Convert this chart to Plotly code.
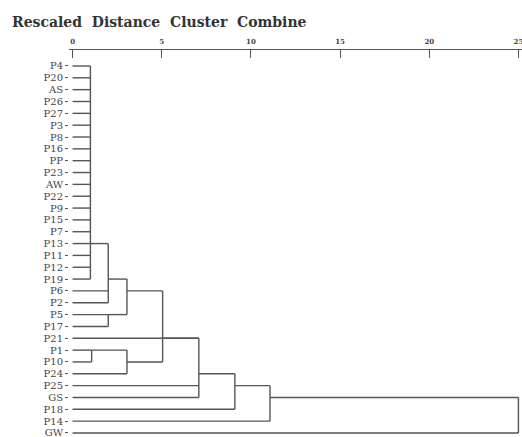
import plotly.graph_objects as go

# Leaf order (top to bottom)
leaves = ["P4", "P20", "AS", "P26", "P27", "P3", "P8", "P16", "PP", "P23", "AW",
          "P22", "P9", "P15", "P7", "P13", "P11", "P12", "P19", "P6", "P2", "P5",
          "P17", "P21", "P1", "P10", "P24", "P25", "GS", "P18", "P14", "GW"]

# Merge steps: cluster name, children, rescaled distance, row label where the cluster line leaves
merge_names = ["A", "R", "B", "PQ", "S", "C", "D", "E", "F", "G", "H"]
merge_children = [
    ["P4", "P20", "AS", "P26", "P27", "P3", "P8", "P16", "PP", "P23", "AW",
     "P22", "P9", "P15", "P7", "P13", "P11", "P12", "P19"],
    ["P5", "P17"],
    ["A", "P6", "P2"],
    ["P1", "P10"],
    ["PQ", "P24"],
    ["B", "R"],
    ["C", "S"],
    ["D", "P21", "P25", "GS"],
    ["E", "P18"],
    ["F", "P14"],
    ["G", "GW"],
]
merge_heights = [1.0, 2.0, 2.0, 1.07, 3.05, 3.05, 5.05, 7.08, 9.1, 11.07, 25.0]
merge_anchor = ["P13", "P5", "P19", "P1", "P10", "P6", "P21", "P24", "P25", "GS", "GW"]

xtick_vals = [0, 5, 10, 15, 20, 25]

row = {name: i for i, name in enumerate(leaves)}
height = {name: 0.0 for name in leaves}

xs, ys = [], []
for name, kids, h, anc in zip(merge_names, merge_children, merge_heights, merge_anchor):
    rows = [row[k] for k in kids]
    for k in kids:
        xs += [height[k], h, None]
        ys += [row[k], row[k], None]
    xs += [h, h, None]
    ys += [min(rows), max(rows), None]
    row[name] = row[anc]
    height[name] = h

line_col = "#555555"
fig = go.Figure()
fig.add_trace(go.Scatter(x=xs, y=ys, mode="lines",
                         line=dict(color=line_col, width=1.4),
                         hoverinfo="skip", showlegend=False))

W, H = 522, 437
fig.update_layout(
    width=W, height=H,
    margin=dict(l=69, r=0, t=50, b=2, autoexpand=False),
    paper_bgcolor="white", plot_bgcolor="white",
    title=dict(text="Rescaled&nbsp; Distance&nbsp; Cluster&nbsp; Combine",
               x=12 / W, xanchor="left", xref="container",
               y=1 - 22 / H, yanchor="middle", pad=dict(l=0, t=0, b=0, r=0),
               font=dict(family="DejaVu Serif", size=14, color="#333333", weight="bold")),
    font=dict(family="DejaVu Serif", color="#444444"),
)
fig.update_xaxes(range=[-0.2, 25.2], side="top", tickvals=xtick_vals, automargin=False,
                 showgrid=False, zeroline=False, showline=True,
                 linecolor=line_col, linewidth=1.4,
                 ticks="inside", ticklen=8, tickwidth=1.4, tickcolor=line_col,
                 tickfont=dict(family="DejaVu Serif", size=7, color="#444444", weight="bold"),
                 ticklabelstandoff=2, ticklabeloverflow="allow")
fig.update_yaxes(range=[31.17, -1.35], tickvals=list(range(len(leaves))), automargin=False,
                 ticktext=leaves, showgrid=False, zeroline=False, showline=False,
                 ticks="outside", ticklen=3, tickwidth=1.4, tickcolor=line_col,
                 ticklabelstandoff=0, ticklabeloverflow="allow",
                 tickfont=dict(family="DejaVu Serif", size=10, color="#444444"))

# remove the default 8px page margin so the figure fills the window exactly
fig.write_html("out.html", config={"displayModeBar": False},
               post_script="document.body.style.margin='0';document.body.style.overflow='hidden';")
